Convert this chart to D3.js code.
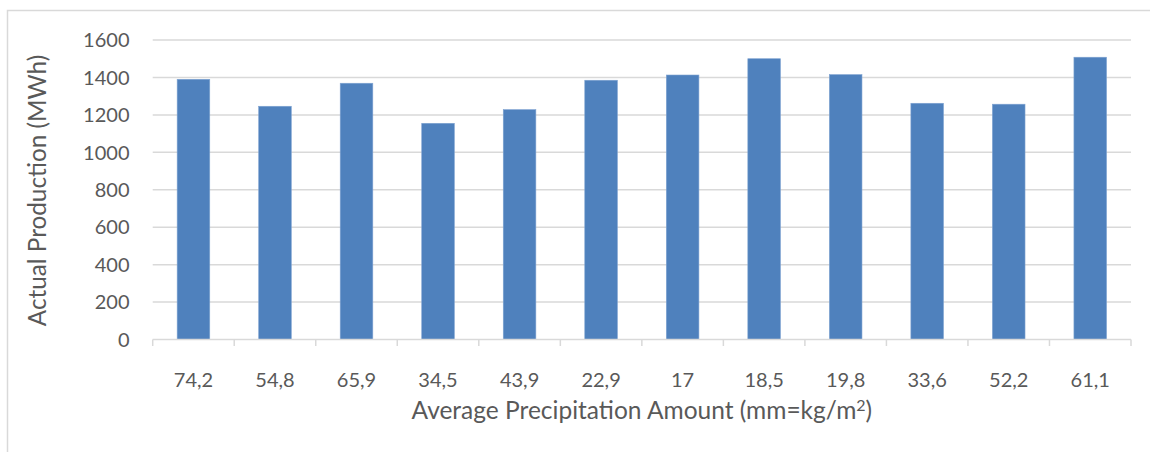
<!DOCTYPE html>
<html>
<head>
<meta charset="utf-8">
<script src="https://cdn.jsdelivr.net/npm/d3@7"></script>
<style>
  html, body { margin: 0; padding: 0; background: #fff; }
  svg { display: block; }
  text { font-family: Lato, "Open Sans", sans-serif; fill: #595959; }
</style>
</head>
<body>
<svg id="chart" width="1150" height="452"></svg>
<script>
// Monthly precipitation (mm) shown as category labels, in chart order
const precipitation = ["74,2", "54,8", "65,9", "34,5", "43,9", "22,9", "17", "18,5", "19,8", "33,6", "52,2", "61,1"];
// Actual production (MWh) for each month
const production = [1390, 1246, 1369, 1155, 1228, 1385, 1413, 1500, 1415, 1262, 1257, 1508];
// Value axis ticks
const yTicks = [0, 200, 400, 600, 800, 1000, 1200, 1400, 1600];

(function () {
  const svg = d3.select("#chart");
  const W = 1150, H = 452;
  const plotL = 152.7, plotR = 1131, plotT = 40, plotB = 339.5;

  // chart frame
  svg.append("rect")
    .attr("x", 7.5).attr("y", 10.5)
    .attr("width", W).attr("height", H)
    .attr("fill", "none").attr("stroke", "#d9d9d9").attr("stroke-width", 1.5);

  const x = d3.scaleBand().domain(precipitation).range([plotL, plotR]).padding(0);
  const y = d3.scaleLinear().domain([0, 1600]).range([plotB, plotT]);

  // horizontal gridlines
  svg.append("g").selectAll("line")
    .data(yTicks.filter(d => d > 0))
    .join("line")
    .attr("x1", plotL).attr("x2", plotR)
    .attr("y1", d => y(d)).attr("y2", d => y(d))
    .attr("stroke", "#d9d9d9").attr("stroke-width", 1.5);

  // y tick labels
  svg.append("g").selectAll("text")
    .data(yTicks)
    .join("text")
    .attr("x", 129.5)
    .attr("y", d => y(d))
    .attr("dy", "0.36em")
    .attr("text-anchor", "end")
    .attr("font-size", 20)
    .text(d => d);

  // bars
  const barW = x.bandwidth() * 0.4;
  svg.append("g").selectAll("rect")
    .data(production)
    .join("rect")
    .attr("x", (d, i) => x(precipitation[i]) + (x.bandwidth() - barW) / 2)
    .attr("y", d => y(d))
    .attr("width", barW)
    .attr("height", d => y(0) - y(d))
    .attr("fill", "#4f81bd")
    .attr("stroke", "#7fa3d1").attr("stroke-width", 0.6);

  // category axis line and tick marks
  const axis = svg.append("g").attr("stroke", "#d9d9d9").attr("stroke-width", 1.5);
  axis.append("line").attr("x1", plotL).attr("x2", plotR).attr("y1", plotB).attr("y2", plotB);
  const bounds = precipitation.map(c => x(c)).concat([plotR]);
  axis.selectAll("line.tick")
    .data(bounds)
    .join("line").attr("class", "tick")
    .attr("x1", d => d).attr("x2", d => d)
    .attr("y1", plotB).attr("y2", plotB + 6.5);

  // category labels
  svg.append("g").selectAll("text")
    .data(precipitation)
    .join("text")
    .attr("x", d => x(d) + x.bandwidth() / 2)
    .attr("y", 387)
    .attr("text-anchor", "middle")
    .attr("font-size", 20)
    .text(d => d);

  // x axis title
  const xt = svg.append("text")
    .attr("x", (plotL + plotR) / 2)
    .attr("y", 419)
    .attr("text-anchor", "middle")
    .attr("font-size", 24.5);
  xt.append("tspan").text("Average Precipitation Amount (mm=kg/m");
  xt.append("tspan").attr("dy", -8.5).attr("font-size", 16).text("2");
  xt.append("tspan").attr("dy", 8.5).text(")");

  // y axis title
  svg.append("text")
    .attr("transform", `translate(46, 190.5) rotate(-90)`)
    .attr("text-anchor", "middle")
    .attr("font-size", 24.3)
    .text("Actual Production (MWh)");
})();
</script>
</body>
</html>
